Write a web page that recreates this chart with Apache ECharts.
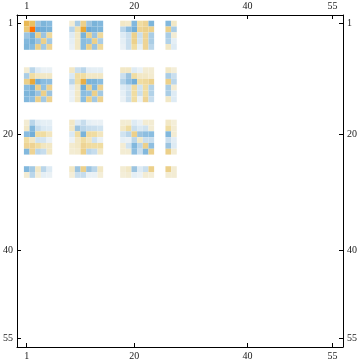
<!DOCTYPE html>
<html>
<head>
<meta charset="utf-8">
<script src="https://cdn.jsdelivr.net/npm/echarts@6/dist/echarts.min.js"></script>
<style>html,body{margin:0;padding:0;background:#fff;}#c{width:360px;height:363px;}</style>
</head>
<body>
<div id="c"></div>
<script>
// Matrix indices that hold non-zero entries (row and column blocks)
var rowIdx = [1,2,3,4,5, 9,10,11,12,13,14, 18,19,20,21,22,23, 26,27];
var colIdx = [1,2,3,4,5, 9,10,11,12,13,14, 18,19,20,21,22,23, 26,27];
var tickValues = [1, 20, 40, 55];
// values[i][j] : row rowIdx[i], column colIdx[j]
var values = [
 [ 0.65, 0.60,-0.50,-0.68,-0.62,  0.13,-0.40, 0.50,-0.50,-0.70,-0.65,  0.20, 0.17,-0.65, 0.30, 0.40,-0.68, -0.65, 0.20],
 [ 0.55, 1.00,-0.78,-0.75,-0.70, -0.30, 0.27, 0.80,-0.78,-0.72,-0.68, -0.30,-0.58,-0.75, 0.40, 0.48, 0.48,  0.50,-0.40],
 [-0.50,-0.75, 0.50,-0.50, 0.35, -0.10, 0.20,-0.70, 0.50,-0.50, 0.35, -0.10,-0.20, 0.48,-0.20, 0.40,-0.40, -0.40, 0.13],
 [-0.65,-0.72,-0.50, 0.50,-0.45, -0.07, 0.20,-0.60,-0.55, 0.50,-0.40, -0.07,-0.20, 0.48,-0.17, 0.40,-0.40, -0.35,-0.07],
 [-0.68,-0.62, 0.50,-0.45, 0.40, -0.05, 0.20,-0.60, 0.50,-0.50, 0.35, -0.05,-0.20, 0.30,-0.07, 0.40,-0.30,  0.20,-0.10],
 [ 0.13,-0.30,-0.10,-0.05,-0.05,  0.20,-0.20,-0.30,-0.08,-0.07,-0.07,  0.20, 0.20,-0.10,-0.05, 0.13, 0.13,  0.20, 0.10],
 [-0.40, 0.30, 0.22, 0.20, 0.20, -0.12, 0.30, 0.30, 0.20, 0.20, 0.20, -0.20,-0.50, 0.30, 0.20, 0.20, 0.15, -0.40,-0.20],
 [ 0.50, 0.80,-0.75,-0.60,-0.58, -0.30, 0.30, 0.72,-0.70,-0.68,-0.60, -0.35,-0.58,-0.75, 0.30, 0.35, 0.48,  0.50,-0.30],
 [-0.60,-0.75, 0.50,-0.55, 0.45, -0.08, 0.20,-0.75, 0.50,-0.65, 0.45, -0.10,-0.17, 0.32,-0.17, 0.30,-0.35, -0.40, 0.13],
 [-0.68,-0.72,-0.50, 0.50,-0.50, -0.05, 0.20,-0.60,-0.55, 0.50,-0.45, -0.07,-0.20, 0.30,-0.20, 0.30,-0.35, -0.40,-0.10],
 [-0.65,-0.58, 0.50,-0.45, 0.45, -0.05, 0.20,-0.60, 0.50,-0.45, 0.45, -0.05,-0.20, 0.30,-0.05, 0.40,-0.22,  0.20,-0.10],
 [ 0.13,-0.30,-0.10,-0.07,-0.07,  0.20,-0.10,-0.22,-0.07,-0.05,-0.05,  0.13, 0.13,-0.10,-0.05, 0.13, 0.13,  0.20, 0.10],
 [ 0.20,-0.65,-0.22,-0.12,-0.10,  0.20,-0.50,-0.30,-0.22,-0.20,-0.17,  0.20, 0.30,-0.20,-0.12,-0.17, 0.13,  0.30, 0.13],
 [-0.60,-0.75, 0.30, 0.30, 0.22, -0.12, 0.30,-0.70, 0.32, 0.30, 0.22, -0.17,-0.30, 0.50,-0.50,-0.58,-0.60, -0.65, 0.13],
 [ 0.30, 0.20,-0.17,-0.15,-0.05, -0.04, 0.20, 0.30, 0.22,-0.17,-0.05, -0.07,-0.05,-0.30, 0.20,-0.20,-0.22, -0.20,-0.08],
 [ 0.40, 0.42, 0.30, 0.22, 0.20,  0.15, 0.20, 0.40, 0.32, 0.30, 0.30,  0.13,-0.17,-0.65,-0.30, 0.50,-0.58, -0.50,-0.10],
 [-0.65, 0.42,-0.30,-0.22, 0.20,  0.13, 0.15, 0.50,-0.30,-0.22, 0.20,  0.13, 0.13,-0.58,-0.20,-0.65, 0.50,  0.50, 0.13],
 [-0.65,-0.45, 0.20,-0.30,-0.10,  0.20,-0.50, 0.50,-0.50,-0.30, 0.20,  0.13, 0.20,-0.50,-0.10,-0.20, 0.50,  0.50, 0.13],
 [ 0.13,-0.30, 0.10,-0.07,-0.05,  0.10,-0.20,-0.22,-0.05,-0.05, 0.10,  0.10, 0.13,-0.07,-0.04, 0.13, 0.10,  0.13, 0.13]
];

var cells = [];
for (var i = 0; i < rowIdx.length; i++) {
  for (var j = 0; j < colIdx.length; j++) {
    cells.push([colIdx[j], rowIdx[i], values[i][j]]);
  }
}

var palette = ['#5a9ccf','#62a2d3','#6aa8d6','#7ab3d9','#8abde0','#9cc4e0','#aacde5','#bad6ea','#cadfee','#deebf4',
               '#f6f7f6',
               '#f4eed8','#f2e8c6','#f0dda2','#eed495','#ecd08a','#eac060','#e8b048','#e8a838','#f08a20','#ff7000'];

var labelFont = {fontFamily: 'Liberation Serif', fontSize: 10, color: '#1a1a1a'};

function xAx(pos) {
  return {
    type: 'value', position: pos, min: -0.72, max: 56.86,
    splitLine: {show: false},
    axisLine: {show: true, onZero: false, lineStyle: {color: '#000', width: 1}},
    axisTick: {show: true, inside: true, length: 4, customValues: tickValues, lineStyle: {color: '#000', width: 1}},
    axisLabel: Object.assign({show: true, margin: 4, customValues: tickValues}, labelFont)
  };
}
function yAx(pos) {
  return {
    type: 'value', position: pos, min: -0.48, max: 56.56, inverse: true,
    splitLine: {show: false},
    axisLine: {show: true, onZero: false, lineStyle: {color: '#000', width: 1}},
    axisTick: {show: true, inside: true, length: 4, customValues: tickValues, lineStyle: {color: '#000', width: 1}},
    axisLabel: Object.assign({show: true, margin: 4, customValues: tickValues}, labelFont)
  };
}

var chart = echarts.init(document.getElementById('c'), null, {renderer: 'canvas'});
chart.setOption({
  animation: false,
  backgroundColor: '#fff',
  grid: {left: 13, right: 13, top: 15, bottom: 16, containLabel: false},
  xAxis: [xAx('bottom'), xAx('top')],
  yAxis: [yAx('left'), yAx('right')],
  visualMap: {show: false, type: 'continuous', min: -1, max: 1, dimension: 2, seriesIndex: 0,
              inRange: {color: palette}},
  series: [{
    type: 'custom',
    xAxisIndex: 0, yAxisIndex: 0,
    data: cells,
    encode: {x: 0, y: 1},
    renderItem: function (params, api) {
      var c = api.value(0), r = api.value(1);
      var p0 = api.coord([c - 0.5, r - 0.5]);
      var p1 = api.coord([c + 0.5, r + 0.5]);
      return {
        type: 'rect',
        shape: {x: Math.min(p0[0], p1[0]), y: Math.min(p0[1], p1[1]),
                width: Math.abs(p1[0] - p0[0]), height: Math.abs(p1[1] - p0[1])},
        style: {fill: api.visual('color'), stroke: null}
      };
    }
  }]
});
</script>
</body>
</html>
